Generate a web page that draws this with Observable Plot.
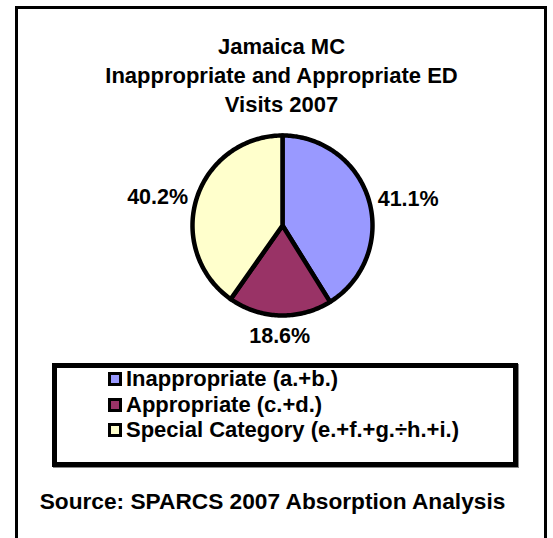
<!DOCTYPE html>
<html>
<head>
<meta charset="utf-8">
<script src="https://cdn.jsdelivr.net/npm/d3@7"></script>
<script src="https://cdn.jsdelivr.net/npm/@observablehq/plot@0.6"></script>
<style>
  html, body { margin: 0; padding: 0; background: #fff; }
  body { width: 553px; height: 538px; position: relative; overflow: hidden;
         font-family: "Liberation Sans", Arial, sans-serif; font-weight: bold; color: #000; }
  #frame { position: absolute; left: 15px; top: 6px; width: 526px; height: 600px;
           border: 3px solid #000; border-bottom: none; }
  #title { position: absolute; left: 0; width: 563px; top: 32px; text-align: center;
           font-size: 22px; line-height: 29px; }
  #chart { position: absolute; left: 0; top: 110px; }
  #legend { position: absolute; left: 52px; top: 363px; width: 456px; height: 94px;
            border: 5px solid #000; box-shadow: 1px 1px 0 #888; }
  .row { position: absolute; left: 51px; height: 26px; display: flex; align-items: center;
         font-size: 22px; white-space: nowrap; }
  .sw { width: 8px; height: 8px; border: 3px solid #000; margin-right: 4px; }
  #source { position: absolute; left: 0; width: 545px; top: 488px; text-align: center; font-size: 22.7px; }
</style>
</head>
<body>
<div id="frame"></div>
<div id="title"></div>
<div id="chart"></div>
<div id="legend"></div>
<div id="source"></div>
<script>
const titleLines = ["Jamaica MC", "Inappropriate and Appropriate ED", "Visits 2007"];
const categories = ["Inappropriate (a.+b.)", "Appropriate (c.+d.)", "Special Category (e.+f.+g.\u00F7h.+i.)"];
const values = [41.1, 18.6, 40.2];
const labels = ["41.1%", "18.6%", "40.2%"];
const colors = ["#9999FF", "#993366", "#FFFFCC"];
const sourceText = "Source: SPARCS 2007 Absorption Analysis";

document.getElementById("title").innerHTML = titleLines.join("<br>");
document.getElementById("source").textContent = sourceText;

// slice geometry from values (angles clockwise from 12 o'clock)
const pie = d3.pie().sort(null).value(d => d)(values);
const slicePts = [];
pie.forEach((p, i) => {
  const n = Math.max(2, Math.ceil((p.endAngle - p.startAngle) / (Math.PI / 180)));
  slicePts.push({cat: categories[i], x: 0, y: 0});
  for (let k = 0; k <= n; k++) {
    const a = p.startAngle + (p.endAngle - p.startAngle) * k / n;
    slicePts.push({cat: categories[i], x: Math.sin(a), y: Math.cos(a)});
  }
  slicePts.push({cat: categories[i], x: 0, y: 0});
});
const labelRadius = 1.1;
const labelData = pie.map((p, i) => {
  const a = (p.startAngle + p.endAngle) / 2;
  const sx = Math.sin(a);
  return {
    label: labels[i], x: labelRadius * sx, y: labelRadius * Math.cos(a),
    anchor: Math.abs(sx) < 0.3 ? "middle" : (sx > 0 ? "start" : "end")
  };
});

const W = 553, H = 240, R = 90, cx = 282, cy = 115;
const plot = Plot.plot({
  width: W, height: H, margin: 0,
  x: {domain: [-cx / R, (W - cx) / R], range: [0, W], axis: null},
  y: {domain: [-(H - cy) / R, cy / R], range: [H, 0], axis: null},
  color: {domain: categories, range: colors},
  style: {fontFamily: "Liberation Sans, Arial, sans-serif", background: "transparent", overflow: "visible"},
  marks: [
    Plot.line(slicePts, {x: "x", y: "y", z: "cat", fill: "cat", stroke: "#000", strokeWidth: 4.5,
      strokeLinejoin: "round", curve: "linear"}),
    ...["start", "end", "middle"].map(anc => Plot.text(labelData.filter(d => d.anchor === anc), {
      x: "x", y: "y", text: "label", textAnchor: anc,
      lineAnchor: anc === "middle" ? "top" : "middle",
      dy: anc === "middle" ? 3 : 1,
      fontSize: 21.5, fontWeight: "bold", fill: "#000"
    }))
  ]
});
document.getElementById("chart").appendChild(plot);

const legend = document.getElementById("legend");
categories.forEach((c, i) => {
  const row = document.createElement("div");
  row.className = "row";
  row.style.top = (-2 + i * 25.5) + "px";
  const sw = document.createElement("div");
  sw.className = "sw";
  sw.style.background = colors[i];
  const t = document.createElement("span");
  t.textContent = c;
  row.appendChild(sw); row.appendChild(t);
  legend.appendChild(row);
});
</script>
</body>
</html>
